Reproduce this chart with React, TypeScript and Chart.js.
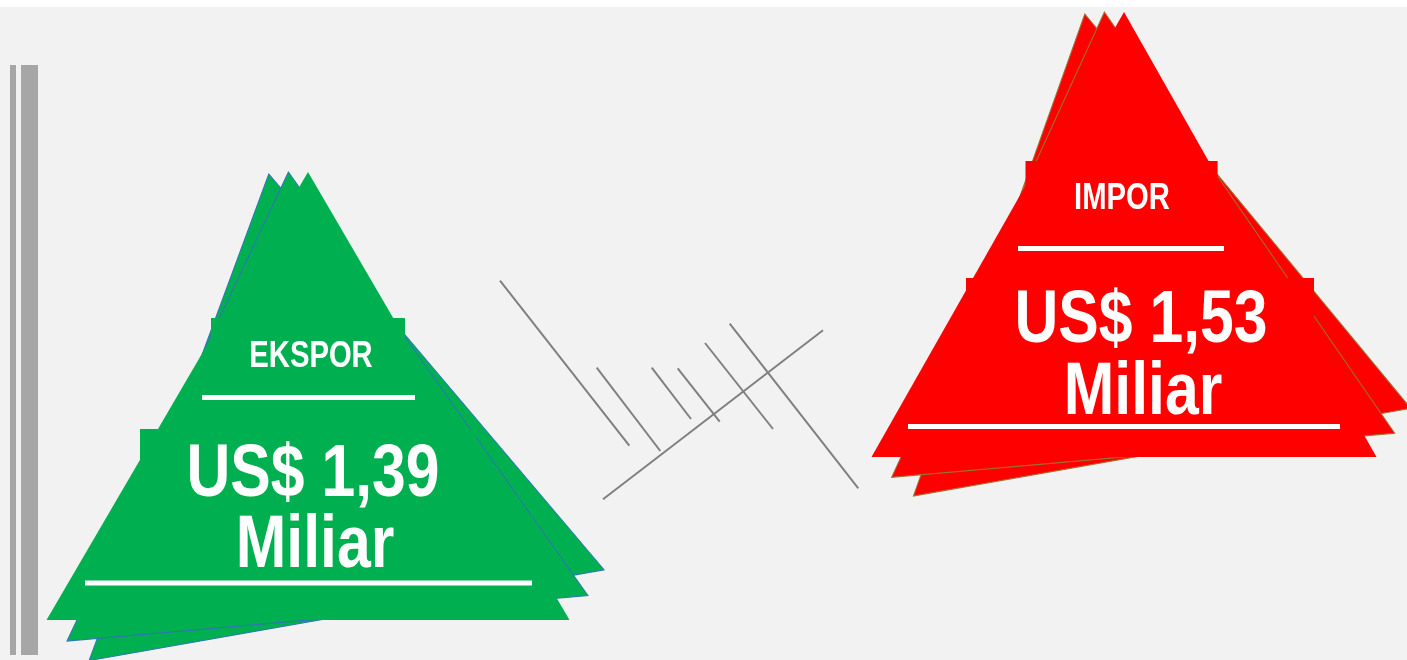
import React, { useEffect, useRef } from "react";
import { Chart, registerables } from "chart.js";

Chart.register(...registerables);

// ---- data ----
const CATEGORIES = ["EKSPOR", "IMPOR"];
const VALUES = [1.39, 1.53];
const CURRENCY = "US$";
const UNIT = "Miliar";

// ---- style ----
const FILLS = ["#00b050", "#ff0000"];
const STROKES = ["#2e75b6", "#9a7436"];
const BG = "#f2f2f2";
const FONT = '"Liberation Sans", Arial, sans-serif';

const LAYOUT = [
  {
    hb: 261.5, h: 448,
    box1: [-97, 97, 146, 100], box2: [-168, 168, 257, 150],
    title: [3, 195], line1: [-106, 107, 225.5], value: [5, 323.5], unit: [7, 395], line2: [-223, 224, 411],
  },
  {
    hb: 252.5, h: 445,
    box1: [-98.5, 93.6, 149, 100], box2: [-158, 190, 266, 140],
    title: [-2, 197], line1: [-106, 100, 236.5], value: [17, 330], unit: [19, 402], line2: [-216, 216, 414.5],
  },
];

const DECOR_LINES = [
  [500, 280.7, 629.3, 445.7],
  [596.7, 367.7, 660.3, 451],
  [651.7, 367.7, 691, 419],
  [677.7, 368.3, 719.7, 421.7],
  [705, 343, 773, 429],
  [729.7, 323.7, 858.3, 488.3],
  [603, 499.3, 823, 330.3],
];

const fmt = (v: number) => v.toFixed(2).replace(".", ",");

function narrowText(ctx: any, text: string, x: number, y: number, size: number, sx: number) {
  ctx.save();
  ctx.translate(x, y);
  ctx.scale(sx, 1);
  ctx.font = `bold ${size}px ${FONT}`;
  ctx.textAlign = "center";
  ctx.textBaseline = "alphabetic";
  ctx.fillText(text, 0, 0);
  ctx.restore();
}

const infographic = {
  id: "infographic",
  beforeDraw(chart: any) {
    const ctx = chart.ctx;
    const W = chart.width, H = chart.height;
    ctx.save();
    ctx.fillStyle = "#ffffff";
    ctx.fillRect(0, 0, W, H);
    ctx.fillStyle = BG;
    ctx.fillRect(0, 7, W, H - 7);
    // left bars
    ctx.fillStyle = "#a6a6a6";
    ctx.fillRect(10, 65, 6, 590);
    ctx.fillRect(21, 65, 17, 590);
    // decorative lines
    ctx.strokeStyle = "#808080";
    ctx.lineWidth = 2;
    for (const [x0, y0, x1, y1] of DECOR_LINES) {
      ctx.beginPath();
      ctx.moveTo(x0, y0);
      ctx.lineTo(x1, y1);
      ctx.stroke();
    }
    ctx.restore();
  },
  afterDatasetsDraw(chart: any) {
    const ctx = chart.ctx;
    const meta = chart.getDatasetMeta(0);
    meta.data.forEach((el: any, i: number) => {
      const ax = el.x, ay = el.y;
      const L = LAYOUT[i];
      // stacked triangles, back to front
      for (let k = 2; k >= 0; k--) {
        ctx.save();
        ctx.translate(ax - 19.6 * k, ay + (k === 2 ? 2 : 0));
        ctx.rotate((-5 * k * Math.PI) / 180);
        ctx.beginPath();
        ctx.moveTo(0, 0);
        ctx.lineTo(-L.hb, L.h);
        ctx.lineTo(L.hb, L.h);
        ctx.closePath();
        ctx.fillStyle = FILLS[i];
        ctx.fill();
        if (k > 0) {
          ctx.strokeStyle = STROKES[i];
          ctx.lineWidth = 1;
          ctx.stroke();
        }
        ctx.restore();
      }
      ctx.save();
      ctx.fillStyle = FILLS[i];
      for (const b of [L.box1, L.box2]) {
        ctx.fillRect(ax + b[0], ay + b[2], b[1] - b[0], b[3]);
      }
      ctx.fillStyle = "#ffffff";
      ctx.fillRect(ax + L.line1[0], ay + L.line1[2] - 2.5, L.line1[1] - L.line1[0], 5);
      ctx.fillRect(ax + L.line2[0], ay + L.line2[2] - 2.5, L.line2[1] - L.line2[0], 5);
      narrowText(ctx, CATEGORIES[i], ax + L.title[0], ay + L.title[1], 37, 0.79);
      narrowText(ctx, `${CURRENCY} ${fmt(VALUES[i])}`, ax + L.value[0], ay + L.value[1], 74, 0.82);
      narrowText(ctx, UNIT, ax + L.unit[0], ay + L.unit[1], 74, 0.82);
      ctx.restore();
    });
  },
};

export default function App() {
  const ref = useRef<HTMLCanvasElement>(null);
  useEffect(() => {
    document.body.style.margin = "0";
    const chart = new Chart(ref.current!, {
      type: "bar",
      data: {
        labels: CATEGORIES,
        datasets: [
          {
            data: VALUES,
            backgroundColor: "rgba(0,0,0,0)",
            borderWidth: 0,
          },
        ],
      },
      options: {
        animation: false,
        responsive: true,
        maintainAspectRatio: false,
        layout: { padding: { left: 308, right: 283, top: 12, bottom: 0 } },
        plugins: { legend: { display: false }, tooltip: { enabled: false } },
        scales: {
          x: { type: "category", offset: false, display: false, grid: { display: false } },
          y: { min: 0.963, max: 1.53, display: false, grid: { display: false } },
        },
      },
      plugins: [infographic],
    });
    return () => chart.destroy();
  }, []);
  return (
    <div style={{ position: "relative", width: 1407, height: 660 }}>
      <canvas ref={ref} />
    </div>
  );
}
